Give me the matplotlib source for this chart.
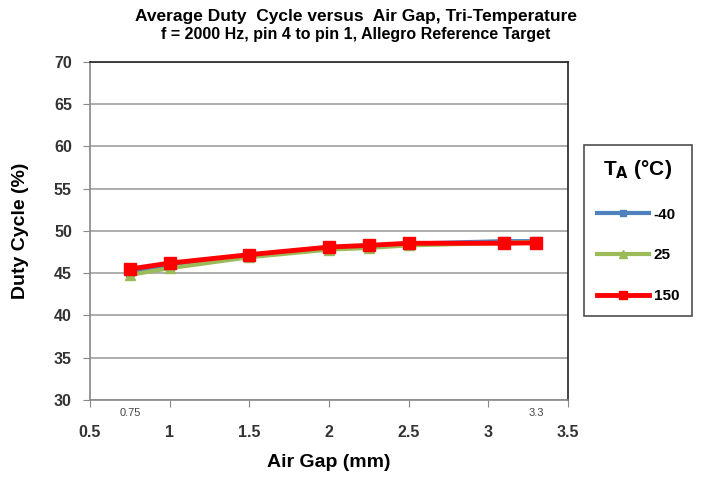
import matplotlib.pyplot as plt

air_gap = [0.75, 1.0, 1.5, 2.0, 2.25, 2.5, 3.1, 3.3]
duty_m40 = [45.2, 45.9, 47.1, 48.0, 48.2, 48.5, 48.8, 48.8]
duty_25 = [44.8, 45.6, 46.9, 47.8, 48.0, 48.3, 48.6, 48.7]
duty_150 = [45.5, 46.2, 47.2, 48.1, 48.3, 48.55, 48.55, 48.6]

x_ticks = [0.5, 1, 1.5, 2, 2.5, 3, 3.5]
extra_ticks = [0.75, 3.3]
y_ticks = [30, 35, 40, 45, 50, 55, 60, 65, 70]

plt.rcParams['font.family'] = ['Liberation Sans', 'DejaVu Sans']

fig = plt.figure(figsize=(7.02, 4.78), dpi=100)
ax = fig.add_axes([90 / 702, 1 - 400 / 478, 478 / 702, 338 / 478])

ax.plot(air_gap, duty_m40, color='#4f81bd', marker='s', markersize=6, lw=3, label='-40')
ax.plot(air_gap, duty_25, color='#9bbb59', marker='^', markersize=7, lw=3, label='25')
ax.plot(air_gap, duty_150, color='#ff0000', marker='s', markersize=8, lw=3.5, label='150')

ax.set_xlim(0.5, 3.5)
ax.set_ylim(30, 70)
ax.set_xticks(x_ticks)
ax.set_xticklabels([f'{t:g}' for t in x_ticks], fontsize=11.5, fontweight='bold', color='#333333')
ax.set_yticks(y_ticks)
ax.set_yticklabels([str(t) for t in y_ticks], fontsize=11.5, fontweight='bold', color='#333333')
ax.tick_params(direction='out', length=5, color='#888888')
ax.tick_params(axis='x', pad=13)
ax.tick_params(axis='y', pad=8)
ax.yaxis.grid(True, color='#a0a0a0', lw=1.2)
ax.set_axisbelow(True)

for v in extra_ticks:
    ax.text(v, 29.0, f'{v:g}', fontsize=8, color='#444444', ha='center', va='top')

ax.spines['left'].set_color('#888888')
ax.spines['bottom'].set_color('#888888')
ax.spines['top'].set_color('#222222')
ax.spines['right'].set_color('#222222')
for s in ax.spines.values():
    s.set_linewidth(1.2)

ax.set_xlabel('Air Gap (mm)', fontsize=14, fontweight='bold', labelpad=10)
ax.set_ylabel('Duty Cycle (%)', fontsize=14, fontweight='bold', labelpad=18)

fig.text(0.5 + 5 / 702, 1 - 16 / 478, 'Average Duty  Cycle versus  Air Gap, Tri-Temperature',
         ha='center', va='center', fontsize=12.5, fontweight='bold')
fig.text(0.5 + 5 / 702, 1 - 34 / 478, 'f = 2000 Hz, pin 4 to pin 1, Allegro Reference Target',
         ha='center', va='center', fontsize=11.5, fontweight='bold')

leg = ax.legend(loc='upper left', bbox_to_anchor=(584 / 702, 1 - 145 / 478),
                bbox_transform=fig.transFigure, title=r'T$_\mathbf{A}$ (°C)',
                fontsize=11, title_fontsize=15, frameon=True, fancybox=False,
                edgecolor='#222222', handlelength=3.4, labelspacing=1.75,
                borderpad=0.85, handletextpad=0.3, markerscale=0.8,
                borderaxespad=0)
leg.get_frame().set_linewidth(1.2)
leg.get_title().set_fontweight('bold')
for txt in leg.get_texts():
    txt.set_fontweight('bold')

fig.savefig('out.png', dpi=100)
